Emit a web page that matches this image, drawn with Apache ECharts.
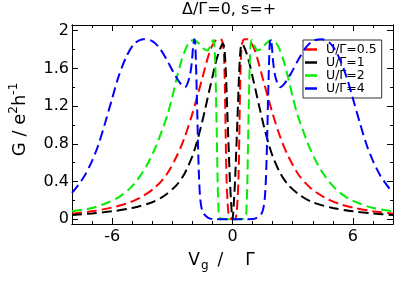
<!DOCTYPE html>
<html><head><meta charset="utf-8">
<script src="https://cdn.jsdelivr.net/npm/echarts@6/dist/echarts.min.js"></script>
<style>html,body{margin:0;padding:0;background:#fff}#c{width:395px;height:284px}</style>
</head><body><div id="c"></div>
<script>
const seriesNames = ['U/Γ=0.5', 'U/Γ=1', 'U/Γ=2', 'U/Γ=4'];
const xMajorTicks = [-6, 0, 6];
const xMinorTicks = [-7, -5, -4, -3, -2, -1, 1, 2, 3, 4, 5, 7];
const yMajorTicks = [0, 0.4, 0.8, 1.2, 1.6, 2];
const yMinorTicks = [0.2, 0.6, 1.0, 1.4, 1.8];

const vgRed = [-8,-7,-6,-5.3,-4.6,-3.9,-3.3,-2.8,-2.4,-2,-1.8,-1.5,-1.3,-1.1,-0.9,-0.75,-0.6,-0.5,-0.43,-0.38,-0.34,-0.3,-0.25,-0.2,-0.15,0,0.15,0.2,0.25,0.3,0.34,0.38,0.43,0.5,0.6,0.75,0.9,1.1,1.3,1.5,1.8,2,2.4,2.8,3.3,3.9,4.6,5.3,6,7,8];
const gRed = [0.06,0.085,0.125,0.165,0.23,0.33,0.47,0.66,0.86,1.12,1.27,1.5,1.66,1.8,1.88,1.91,1.91,1.88,1.75,1.4,0.9,0.45,0.2,0.06,0.01,0,0.01,0.06,0.2,0.45,0.9,1.4,1.75,1.88,1.91,1.91,1.88,1.8,1.66,1.5,1.27,1.12,0.86,0.66,0.47,0.33,0.23,0.165,0.125,0.085,0.06];

const vgBlack = [-8,-7,-6,-5,-4,-3.4,-2.8,-2.4,-2,-1.8,-1.55,-1.35,-1.15,-1,-0.85,-0.7,-0.55,-0.47,-0.4,-0.33,-0.27,-0.2,-0.13,-0.07,-0.03,0,0.03,0.07,0.13,0.2,0.27,0.33,0.4,0.47,0.55,0.7,0.85,1,1.15,1.35,1.55,1.8,2,2.4,2.8,3.4,4,5,6,7,8];
const gBlack = [0.045,0.062,0.085,0.12,0.18,0.25,0.36,0.48,0.67,0.8,1.0,1.18,1.37,1.51,1.65,1.76,1.84,1.86,1.8,1.55,1.2,0.8,0.42,0.18,0.05,0,0.05,0.18,0.42,0.8,1.2,1.55,1.8,1.86,1.84,1.76,1.65,1.51,1.37,1.18,1.0,0.8,0.67,0.48,0.36,0.25,0.18,0.12,0.085,0.062,0.045];

const vgGreen = [-8,-7,-6.3,-5.7,-5.1,-4.6,-4.2,-3.8,-3.5,-3.25,-3,-2.8,-2.55,-2.35,-2.15,-1.95,-1.7,-1.45,-1.25,-1.12,-1.02,-0.95,-0.9,-0.86,-0.82,-0.78,-0.74,-0.7,-0.66,-0.55,0,0.55,0.66,0.7,0.74,0.78,0.82,0.86,0.9,0.95,1.02,1.12,1.25,1.45,1.7,1.95,2.15,2.35,2.55,2.8,3,3.25,3.5,3.8,4.2,4.6,5.1,5.7,6.3,7,8];
const gGreen = [0.085,0.12,0.17,0.23,0.33,0.46,0.6,0.78,0.95,1.1,1.3,1.48,1.68,1.8,1.88,1.9,1.87,1.81,1.79,1.83,1.88,1.9,1.84,1.65,1.3,0.85,0.4,0.12,0.03,0.005,0,0.005,0.03,0.12,0.4,0.85,1.3,1.65,1.84,1.9,1.88,1.83,1.79,1.81,1.87,1.9,1.88,1.8,1.68,1.48,1.3,1.1,0.95,0.78,0.6,0.46,0.33,0.23,0.17,0.12,0.085];

const vgBlue = [-8,-7.7,-7.35,-7,-6.7,-6.35,-6,-5.7,-5.3,-4.9,-4.45,-4,-3.65,-3.3,-2.95,-2.6,-2.37,-2.15,-2.03,-1.96,-1.9,-1.86,-1.82,-1.77,-1.72,-1.67,-1.62,-1.56,-1.47,-1.3,-1.15,-1,0,1,1.15,1.3,1.47,1.56,1.62,1.67,1.72,1.77,1.82,1.86,1.9,1.96,2.03,2.15,2.37,2.6,2.95,3.3,3.65,4,4.45,4.9,5.3,5.7,6,6.35,6.7,7,7.35,7.7,8];
const gBlue = [0.28,0.36,0.47,0.62,0.78,1.02,1.28,1.5,1.72,1.86,1.91,1.89,1.82,1.7,1.56,1.44,1.4,1.5,1.66,1.84,1.91,1.87,1.65,1.25,0.8,0.45,0.25,0.14,0.07,0.03,0.01,0.003,0,0.003,0.01,0.03,0.07,0.14,0.25,0.45,0.8,1.25,1.65,1.87,1.91,1.84,1.66,1.5,1.4,1.44,1.56,1.7,1.82,1.89,1.91,1.86,1.72,1.5,1.28,1.02,0.78,0.62,0.47,0.36,0.28];

const colors = ['#ff0000', '#000000', '#00ee00', '#0000ff'];
const curves = [[vgRed, gRed], [vgBlack, gBlack], [vgGreen, gGreen], [vgBlue, gBlue]];

const FONT = 'DejaVu Sans';
const XMIN = -8, XMAX = 8, YMIN = -0.05, YMAX = 2.06;

function xAxisDef(pos, ticks, len, labels) {
  return {
    type: 'value', min: XMIN, max: XMAX, position: pos,
    axisLine: { show: true, onZero: false, lineStyle: { color: '#000', width: 1 } },
    axisTick: { show: true, inside: true, length: len, customValues: ticks, lineStyle: { color: '#000', width: 1 } },
    axisLabel: labels ? { show: true, customValues: ticks, margin: 5, color: '#000', fontSize: 16, fontFamily: FONT } : { show: false },
    splitLine: { show: false }
  };
}
function yAxisDef(pos, ticks, len, labels) {
  return {
    type: 'value', min: YMIN, max: YMAX, position: pos,
    axisLine: { show: true, onZero: false, lineStyle: { color: '#000', width: 1 } },
    axisTick: { show: true, inside: true, length: len, customValues: ticks, lineStyle: { color: '#000', width: 1 } },
    axisLabel: labels ? { show: true, customValues: ticks, margin: 3, color: '#000', fontSize: 16, fontFamily: FONT } : { show: false },
    splitLine: { show: false }
  };
}

const xAxes = [
  xAxisDef('bottom', xMajorTicks, 6, true),
  xAxisDef('bottom', xMinorTicks, 3, false),
  xAxisDef('top', xMajorTicks, 6, false),
  xAxisDef('top', xMinorTicks, 3, false)
];
xAxes[0].name = '{v|V}{s|g}{sl|/}{v2|Γ}';
xAxes[0].nameLocation = 'middle';
xAxes[0].nameGap = 26;
xAxes[0].nameTextStyle = {
  fontFamily: FONT, fontSize: 17, color: '#000', padding: [0, 22, 0, 0],
  rich: {
    v: { fontFamily: FONT, fontSize: 17, lineHeight: 22, color: '#000' },
    s: { fontFamily: FONT, fontSize: 12, lineHeight: 12, verticalAlign: 'bottom', color: '#000', padding: [0, 0, 0, 1] },
    sl: { fontFamily: FONT, fontSize: 17, lineHeight: 22, color: '#000', padding: [0, 0, 0, 9] },
    v2: { fontFamily: FONT, fontSize: 17, lineHeight: 22, color: '#000', padding: [0, 0, 0, 22] }
  }
};

const yAxes = [
  yAxisDef('left', yMajorTicks, 6, true),
  yAxisDef('left', yMinorTicks, 3, false),
  yAxisDef('right', yMajorTicks, 6, false),
  yAxisDef('right', yMinorTicks, 3, false)
];
yAxes[0].name = '{m|G / e}{p|2}{m|h}{p|-1}';
yAxes[0].nameLocation = 'middle';
yAxes[0].nameGap = 40;
yAxes[0].nameRotate = 90;
yAxes[0].nameTextStyle = {
  fontFamily: FONT, fontSize: 18, color: '#000', padding: [0, 0, 0, 10],
  rich: {
    m: { fontFamily: FONT, fontSize: 18, lineHeight: 24, color: '#000' },
    p: { fontFamily: FONT, fontSize: 12, lineHeight: 12, verticalAlign: 'top', color: '#000' }
  }
};

const series = curves.map((c, i) => ({
  name: seriesNames[i],
  type: 'line',
  xAxisIndex: 0, yAxisIndex: 0,
  data: c[0].map((v, k) => [v, c[1][k]]),
  showSymbol: false, symbol: 'none',
  smooth: 0.3,
  color: colors[i],
  lineStyle: { color: colors[i], width: 2, type: [10, 5] },
  z: 2 + i
}));

const chart = echarts.init(document.getElementById('c'), null, { renderer: 'canvas' });
chart.setOption({
  animation: false,
  backgroundColor: '#fff',
  title: {
    text: 'Δ/Γ=0, s=+', left: 182, top: 2, padding: 0,
    textStyle: { fontFamily: FONT, fontSize: 16, fontWeight: 'normal', color: '#000' }
  },
  grid: { left: 66, right: 2, top: 25, bottom: 60, containLabel: false },
  legend: {
    data: seriesNames,
    orient: 'vertical', left: 303, top: 40,
    icon: 'rect', itemWidth: 12, itemHeight: 2.5, itemGap: 0,
    padding: [3, 5, 3, 2],
    backgroundColor: '#fff', borderColor: '#333', borderWidth: 1, borderRadius: 0,
    textStyle: { fontFamily: FONT, fontSize: 12.5, lineHeight: 12.5, color: '#000', padding: [0, 0, 0, 4] }
  },
  xAxis: xAxes,
  yAxis: yAxes,
  series: series
});
</script></body></html>
